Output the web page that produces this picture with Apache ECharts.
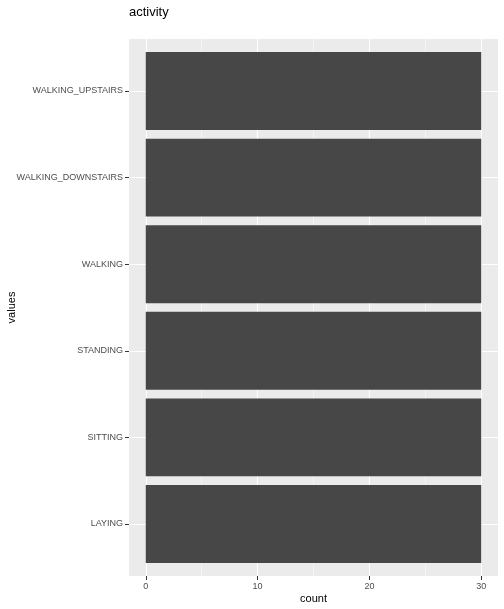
<!DOCTYPE html>
<html>
<head>
<meta charset="utf-8">
<script src="https://cdn.jsdelivr.net/npm/echarts@6/dist/echarts.min.js"></script>
<style>html,body{margin:0;padding:0;background:#fff}#c{width:504px;height:609px}</style>
</head>
<body>
<div id="c"></div>
<script>
const categories = ['LAYING', 'SITTING', 'STANDING', 'WALKING', 'WALKING_DOWNSTAIRS', 'WALKING_UPSTAIRS'];
const counts = [30, 30, 30, 30, 30, 30];
const xMajorTicks = [0, 10, 20, 30];
const xMinorTicks = [5, 15, 25];
const xMin = -1.5, xMax = 31.5;

const font = 'Liberation Sans, Arial, sans-serif';
const chart = echarts.init(document.getElementById('c'), null, {renderer: 'canvas'});
chart.setOption({
  animation: false,
  backgroundColor: '#ffffff',
  textStyle: {fontFamily: font},
  title: {
    text: 'activity', left: 129, top: 6, padding: 0,
    textStyle: {fontSize: 13, fontWeight: 'normal', color: '#000', fontFamily: font}
  },
  grid: [
    {left: 129, right: 6, top: 39, bottom: 33, show: true, backgroundColor: '#EBEBEB', borderWidth: 0,
     containLabel: false, outerBoundsMode: 'none'},
    {left: 129, right: 6, top: 91, bottom: 85, containLabel: false, outerBoundsMode: 'none'}
  ],
  xAxis: [
    {
      gridIndex: 0, type: 'value', min: xMin, max: xMax,
      axisLine: {show: false, onZero: false},
      axisTick: {show: true, length: 4, lineStyle: {color: '#333333', width: 1}, customValues: xMajorTicks},
      axisLabel: {color: '#4D4D4D', fontSize: 9, margin: 6, customValues: xMajorTicks, fontFamily: font},
      splitLine: {show: true, lineStyle: {color: '#ffffff', width: 1.1}},
      name: 'count', nameLocation: 'middle', nameGap: 17, nameMoveOverlap: false,
      nameTextStyle: {fontSize: 11, color: '#000', fontFamily: font}
    },
    {
      gridIndex: 0, type: 'value', min: xMin, max: xMax,
      axisLine: {show: false, onZero: false},
      axisTick: {show: false, customValues: xMinorTicks},
      axisLabel: {show: false, customValues: xMinorTicks},
      splitLine: {show: true, lineStyle: {color: '#ffffff', width: 0.5}}
    },
    {gridIndex: 1, type: 'value', min: xMin, max: xMax, show: false, axisLine: {onZero: false}}
  ],
  yAxis: [
    {gridIndex: 0, type: 'value', min: 0, max: 1, show: false, axisLine: {onZero: false}},
    {
      gridIndex: 1, type: 'category', data: categories, boundaryGap: false,
      axisLine: {show: false, onZero: false},
      axisTick: {show: true, length: 4, lineStyle: {color: '#333333', width: 1}},
      axisLabel: {color: '#4D4D4D', fontSize: 9, margin: 6, fontFamily: font},
      splitLine: {show: true, lineStyle: {color: '#ffffff', width: 1.1}},
      name: 'values', nameLocation: 'middle', nameGap: 112, nameRotate: 90, nameMoveOverlap: false,
      nameTextStyle: {fontSize: 11, color: '#000', fontFamily: font}
    }
  ],
  series: [{
    type: 'bar', xAxisIndex: 2, yAxisIndex: 1,
    data: counts, barWidth: '90%', clip: false,
    itemStyle: {color: '#474747'}
  }]
});
</script>
</body>
</html>
